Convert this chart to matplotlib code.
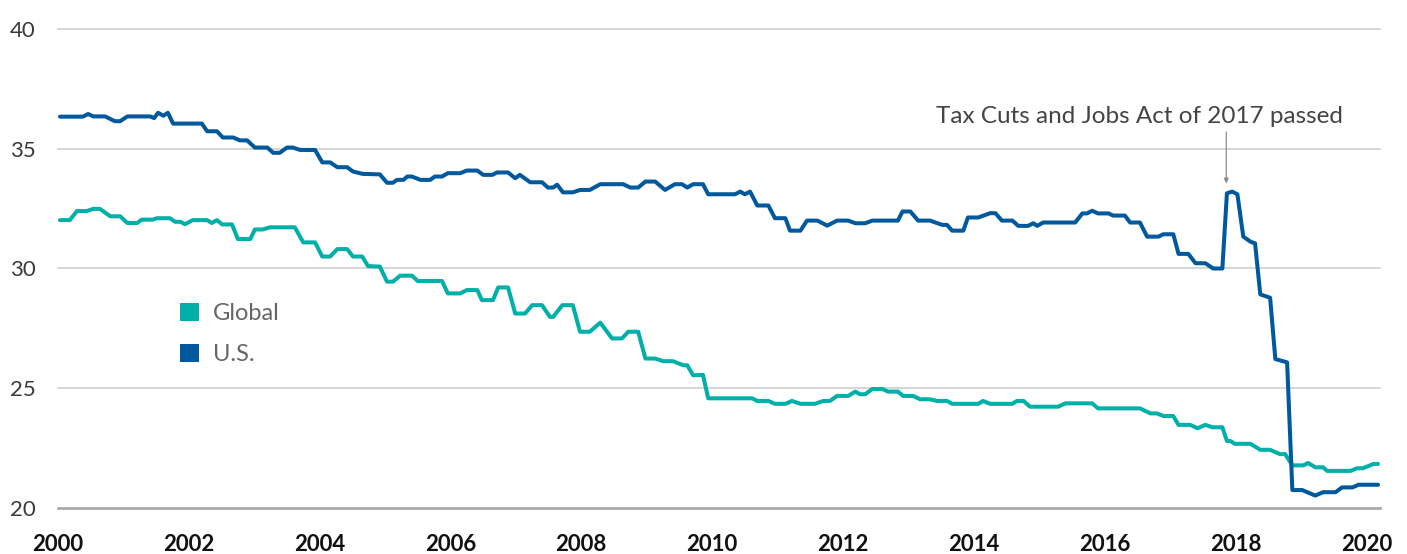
import matplotlib
matplotlib.use("Agg")
import matplotlib.pyplot as plt
from matplotlib.patches import Patch

plt.rcParams['font.family'] = ['Lato', 'DejaVu Sans']

# ---- data ----
us_years = [2000.03, 2000.38, 2000.46, 2000.54, 2000.72, 2000.87, 2000.95, 2001.06, 2001.41, 2001.47,
            2001.53, 2001.61, 2001.68, 2001.76, 2002.20, 2002.28, 2002.43, 2002.52, 2002.68, 2002.78,
            2002.89, 2003.01, 2003.20, 2003.29, 2003.39, 2003.50, 2003.59, 2003.70, 2003.93, 2004.04,
            2004.16, 2004.27, 2004.42, 2004.51, 2004.66, 2004.92, 2005.03, 2005.12, 2005.18, 2005.28,
            2005.34, 2005.41, 2005.54, 2005.69, 2005.76, 2005.87, 2005.96, 2006.15, 2006.25, 2006.41,
            2006.50, 2006.64, 2006.71, 2006.88, 2006.99, 2007.06, 2007.22, 2007.40, 2007.49, 2007.57,
            2007.63, 2007.72, 2007.87, 2007.98, 2008.13, 2008.29, 2008.64, 2008.75, 2008.87, 2008.98,
            2009.13, 2009.28, 2009.43, 2009.54, 2009.62, 2009.71, 2009.86, 2009.94, 2010.35, 2010.43,
            2010.50, 2010.58, 2010.69, 2010.86, 2010.96, 2011.12, 2011.19, 2011.35, 2011.45, 2011.61,
            2011.76, 2011.91, 2012.08, 2012.19, 2012.34, 2012.45, 2012.84, 2012.91, 2013.03, 2013.15,
            2013.33, 2013.52, 2013.59, 2013.67, 2013.84, 2013.91, 2014.07, 2014.25, 2014.33, 2014.43,
            2014.59, 2014.68, 2014.83, 2014.91, 2014.97, 2015.06, 2015.55, 2015.66, 2015.73, 2015.81,
            2015.90, 2016.06, 2016.13, 2016.31, 2016.39, 2016.54, 2016.65, 2016.82, 2016.90, 2017.05,
            2017.13, 2017.28, 2017.39, 2017.54, 2017.66, 2017.80, 2017.87, 2017.95, 2018.03, 2018.12,
            2018.23, 2018.30, 2018.38, 2018.53, 2018.61, 2018.79, 2018.87, 2019.02, 2019.10, 2019.22,
            2019.34, 2019.53, 2019.63, 2019.79, 2019.88, 2020.18]
us_values = [36.34, 36.34, 36.45, 36.35, 36.35, 36.15, 36.15, 36.35, 36.35, 36.28,
             36.50, 36.38, 36.50, 36.05, 36.05, 35.73, 35.73, 35.47, 35.47, 35.35,
             35.35, 35.05, 35.05, 34.83, 34.83, 35.05, 35.05, 34.95, 34.95, 34.43,
             34.43, 34.23, 34.23, 34.05, 33.95, 33.93, 33.58, 33.58, 33.70, 33.70,
             33.84, 33.84, 33.70, 33.70, 33.84, 33.84, 33.98, 33.98, 34.09, 34.09,
             33.91, 33.91, 34.01, 34.01, 33.77, 33.91, 33.60, 33.60, 33.38, 33.38,
             33.50, 33.18, 33.18, 33.28, 33.28, 33.52, 33.52, 33.38, 33.38, 33.63,
             33.63, 33.28, 33.52, 33.52, 33.38, 33.52, 33.52, 33.10, 33.10, 33.21,
             33.10, 33.21, 32.63, 32.63, 32.10, 32.10, 31.58, 31.58, 32.00, 32.00,
             31.79, 32.00, 32.00, 31.89, 31.89, 32.00, 32.00, 32.38, 32.38, 32.00,
             32.00, 31.82, 31.82, 31.58, 31.58, 32.13, 32.13, 32.31, 32.31, 32.00,
             32.00, 31.78, 31.78, 31.89, 31.78, 31.92, 31.92, 32.30, 32.30, 32.41,
             32.30, 32.30, 32.21, 32.21, 31.92, 31.92, 31.33, 31.33, 31.43, 31.43,
             30.61, 30.61, 30.22, 30.22, 30.00, 30.00, 33.14, 33.21, 33.10, 31.33,
             31.12, 31.05, 28.92, 28.78, 26.22, 26.08, 20.75, 20.75, 20.66, 20.52,
             20.66, 20.66, 20.86, 20.86, 20.97, 20.97]

global_years = [2000.03, 2000.18, 2000.29, 2000.44, 2000.54, 2000.64, 2000.80, 2000.95, 2001.06, 2001.21,
                2001.28, 2001.45, 2001.51, 2001.71, 2001.79, 2001.87, 2001.94, 2002.06, 2002.28, 2002.35,
                2002.43, 2002.51, 2002.66, 2002.75, 2002.94, 2003.01, 2003.13, 2003.24, 2003.62, 2003.75,
                2003.93, 2004.04, 2004.16, 2004.27, 2004.42, 2004.51, 2004.65, 2004.74, 2004.92, 2005.03,
                2005.12, 2005.23, 2005.41, 2005.50, 2005.87, 2005.96, 2006.15, 2006.25, 2006.41, 2006.48,
                2006.65, 2006.73, 2006.88, 2006.99, 2007.14, 2007.25, 2007.40, 2007.52, 2007.57, 2007.71,
                2007.87, 2007.98, 2008.13, 2008.29, 2008.47, 2008.62, 2008.72, 2008.87, 2008.98, 2009.13,
                2009.25, 2009.40, 2009.56, 2009.62, 2009.71, 2009.86, 2009.94, 2010.61, 2010.69, 2010.86,
                2010.96, 2011.12, 2011.22, 2011.35, 2011.57, 2011.70, 2011.80, 2011.91, 2012.08, 2012.19,
                2012.26, 2012.34, 2012.45, 2012.60, 2012.69, 2012.84, 2012.92, 2013.07, 2013.18, 2013.33,
                2013.44, 2013.59, 2013.67, 2014.07, 2014.14, 2014.25, 2014.59, 2014.66, 2014.76, 2014.86,
                2015.29, 2015.40, 2015.81, 2015.90, 2016.54, 2016.70, 2016.80, 2016.90, 2017.05, 2017.13,
                2017.31, 2017.42, 2017.54, 2017.65, 2017.80, 2017.87, 2017.92, 2017.99, 2018.23, 2018.38,
                2018.53, 2018.68, 2018.76, 2018.87, 2019.04, 2019.11, 2019.22, 2019.34, 2019.40, 2019.76,
                2019.86, 2019.95, 2020.11, 2020.18]
global_values = [32.02, 32.02, 32.40, 32.40, 32.49, 32.49, 32.18, 32.18, 31.90, 31.90,
                 32.04, 32.04, 32.10, 32.10, 31.95, 31.95, 31.85, 32.02, 32.02, 31.90,
                 32.02, 31.84, 31.84, 31.23, 31.23, 31.63, 31.63, 31.72, 31.72, 31.09,
                 31.09, 30.50, 30.50, 30.81, 30.81, 30.50, 30.50, 30.10, 30.08, 29.45,
                 29.45, 29.70, 29.70, 29.48, 29.48, 28.96, 28.96, 29.10, 29.10, 28.68,
                 28.68, 29.21, 29.21, 28.12, 28.12, 28.47, 28.47, 27.98, 27.98, 28.47,
                 28.47, 27.36, 27.36, 27.74, 27.08, 27.08, 27.36, 27.36, 26.24, 26.24,
                 26.13, 26.13, 25.96, 25.96, 25.54, 25.56, 24.58, 24.58, 24.47, 24.47,
                 24.35, 24.35, 24.47, 24.35, 24.35, 24.47, 24.47, 24.68, 24.68, 24.86,
                 24.75, 24.75, 24.97, 24.97, 24.86, 24.86, 24.68, 24.68, 24.54, 24.54,
                 24.47, 24.47, 24.35, 24.35, 24.47, 24.35, 24.35, 24.47, 24.47, 24.23,
                 24.23, 24.37, 24.37, 24.16, 24.16, 23.95, 23.95, 23.84, 23.84, 23.47,
                 23.47, 23.33, 23.47, 23.37, 23.37, 22.80, 22.80, 22.68, 22.68, 22.43,
                 22.43, 22.25, 22.25, 21.78, 21.78, 21.88, 21.70, 21.70, 21.55, 21.55,
                 21.66, 21.66, 21.84, 21.84]

y_ticks = [20, 25, 30, 35, 40]
x_ticks = [2000, 2002, 2004, 2006, 2008, 2010, 2012, 2014, 2016, 2018, 2020]
series_labels = ["Global", "U.S."]
annotation_text = "Tax Cuts and Jobs Act of 2017 passed"
annotation_x = 2017.86

# ---- style ----
GLOBAL_C = "#00B0A8"
US_C = "#00599D"

W, H = 1407, 554
fig = plt.figure(figsize=(W / 100, H / 100), dpi=100)
ax = fig.add_axes([58 / W, 1 - 508 / H, (1380 - 58) / W, (508 - 29) / H])

ax.set_xlim(2000, 2020.21)
ax.set_ylim(20, 40)

for yv in y_ticks:
    if yv == 20:
        ax.axhline(yv, color="#ababab", lw=2.0, zorder=1, clip_on=False)
    else:
        ax.axhline(yv, color="#cfcfcf", lw=1.2, zorder=1, clip_on=False)

ax.plot(global_years, global_values, color=GLOBAL_C, lw=2.9, solid_joinstyle="round",
        solid_capstyle="round", zorder=3)
ax.plot(us_years, us_values, color=US_C, lw=2.9, solid_joinstyle="round",
        solid_capstyle="round", zorder=4)

for s in ax.spines.values():
    s.set_visible(False)

ax.set_yticks(y_ticks)
ax.set_yticklabels([str(v) for v in y_ticks])
ax.tick_params(axis="y", length=0, pad=16, labelsize=16, labelcolor="#3a3a3a")
ax.set_xticks(x_ticks)
ax.set_xticklabels([str(v) for v in x_ticks])
ax.tick_params(axis="x", length=0, pad=19, labelsize=16, labelcolor="#111111")
for lab in ax.get_xticklabels():
    lab.set_fontweight("bold")

# annotation
ax.annotate("", xy=(annotation_x, 33.55), xytext=(annotation_x, 35.7),
            arrowprops=dict(arrowstyle="-|>", color="#8a8a8a", lw=0.9,
                            mutation_scale=7, shrinkA=0, shrinkB=0))
ax.text(2019.65, 36.35, annotation_text, ha="right", va="center", fontsize=17.5,
        color="#444444")

handles = [Patch(facecolor=GLOBAL_C, edgecolor="none"), Patch(facecolor=US_C, edgecolor="none")]
leg = ax.legend(handles, series_labels, loc="upper left",
                bbox_to_anchor=(161 / W, 1 - 284 / H), bbox_transform=fig.transFigure,
                frameon=False, fontsize=17, handlelength=0.8, handleheight=0.8,
                handletextpad=0.6, labelspacing=0.85, borderpad=0.3)
for t in leg.get_texts():
    t.set_color("#666666")

fig.savefig("out.png", dpi=100, facecolor="white")
